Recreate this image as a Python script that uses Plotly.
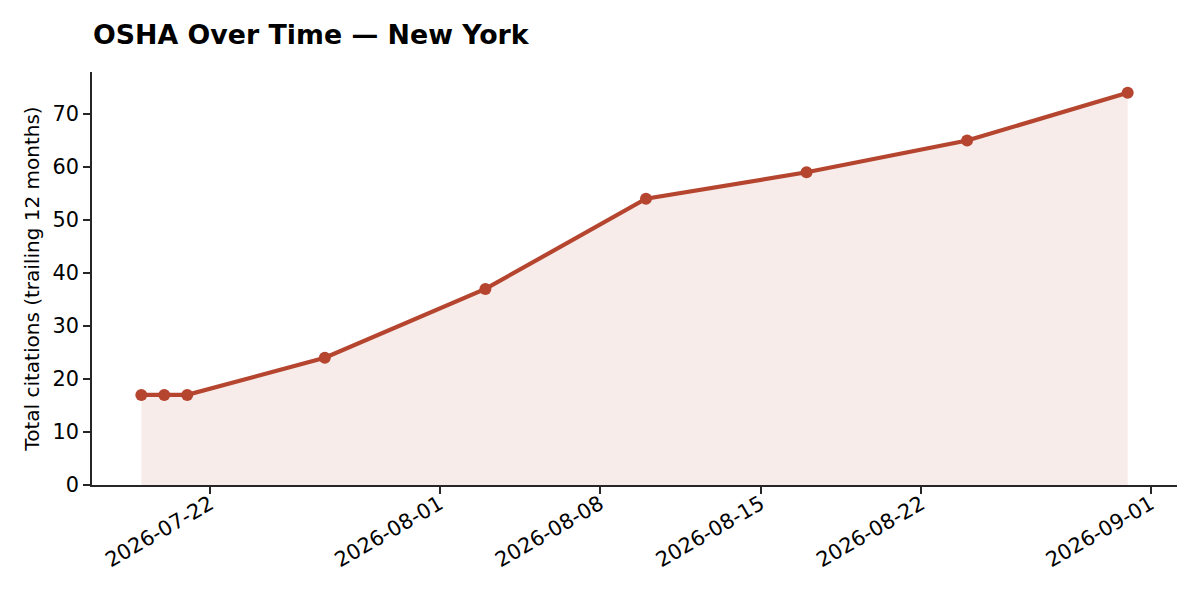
import pandas as pd
import plotly.graph_objects as go

# 데이터
dates = ["2026-07-19", "2026-07-20", "2026-07-21", "2026-07-27", "2026-08-03",
         "2026-08-10", "2026-08-17", "2026-08-24", "2026-08-31"]
citations = [17, 17, 17, 24, 37, 54, 59, 65, 74]
tick_dates = ["2026-07-22", "2026-08-01", "2026-08-08", "2026-08-15",
              "2026-08-22", "2026-09-01"]
y_ticks = [0, 10, 20, 30, 40, 50, 60, 70]

line_color = "#b5452f"
fill_color = "rgba(181, 69, 47, 0.1)"
axis_color = "#262626"

# 페이지 body 기본 여백(8px) 보정
OFF = 8

x = pd.to_datetime(dates)
pad = (x.max() - x.min()) * 0.05
x_range = [x.min() - pad, x.max() + pad]
y_range = [0, max(citations) * 1.053]

trace = go.Scatter(
    x=x,
    y=citations,
    mode="lines+markers",
    line=dict(color=line_color, width=4.2),
    marker=dict(color=line_color, size=12),
    fill="tozeroy",
    fillcolor=fill_color,
    showlegend=False,
)

layout = go.Layout(
    width=1200,
    height=600,
    paper_bgcolor="white",
    plot_bgcolor="white",
    font=dict(family="DejaVu Sans", size=20.8, color="black"),
    margin=dict(l=92 - OFF, r=23 + OFF, t=72 - OFF, b=115 + OFF),
    title=dict(
        text="<b>OSHA Over Time — New York</b>",
        font=dict(size=26.8, color="black"),
        x=(93 - OFF) / 1200,
        xref="container",
        xanchor="left",
        y=1 - (35 - OFF) / 600,
        yref="container",
        yanchor="middle",
    ),
    xaxis=dict(
        range=x_range,
        tickvals=pd.to_datetime(tick_dates),
        tickformat="%Y-%m-%d",
        tickangle=-30,
        ticklabelstandoff=-10,
        ticks="outside",
        ticklen=7,
        tickwidth=1.7,
        tickcolor=axis_color,
        showline=True,
        linecolor=axis_color,
        linewidth=1.7,
        showgrid=False,
        zeroline=False,
    ),
    yaxis=dict(
        range=y_range,
        tickvals=y_ticks,
        ticks="outside",
        ticklen=7,
        tickwidth=1.7,
        tickcolor=axis_color,
        showline=True,
        linecolor=axis_color,
        linewidth=1.7,
        showgrid=False,
        zeroline=False,
        title=dict(text="Total citations (trailing 12 months)", standoff=8,
                   font=dict(size=20)),
    ),
)

fig = go.Figure(data=[trace], layout=layout)
fig.write_html("out.html")
